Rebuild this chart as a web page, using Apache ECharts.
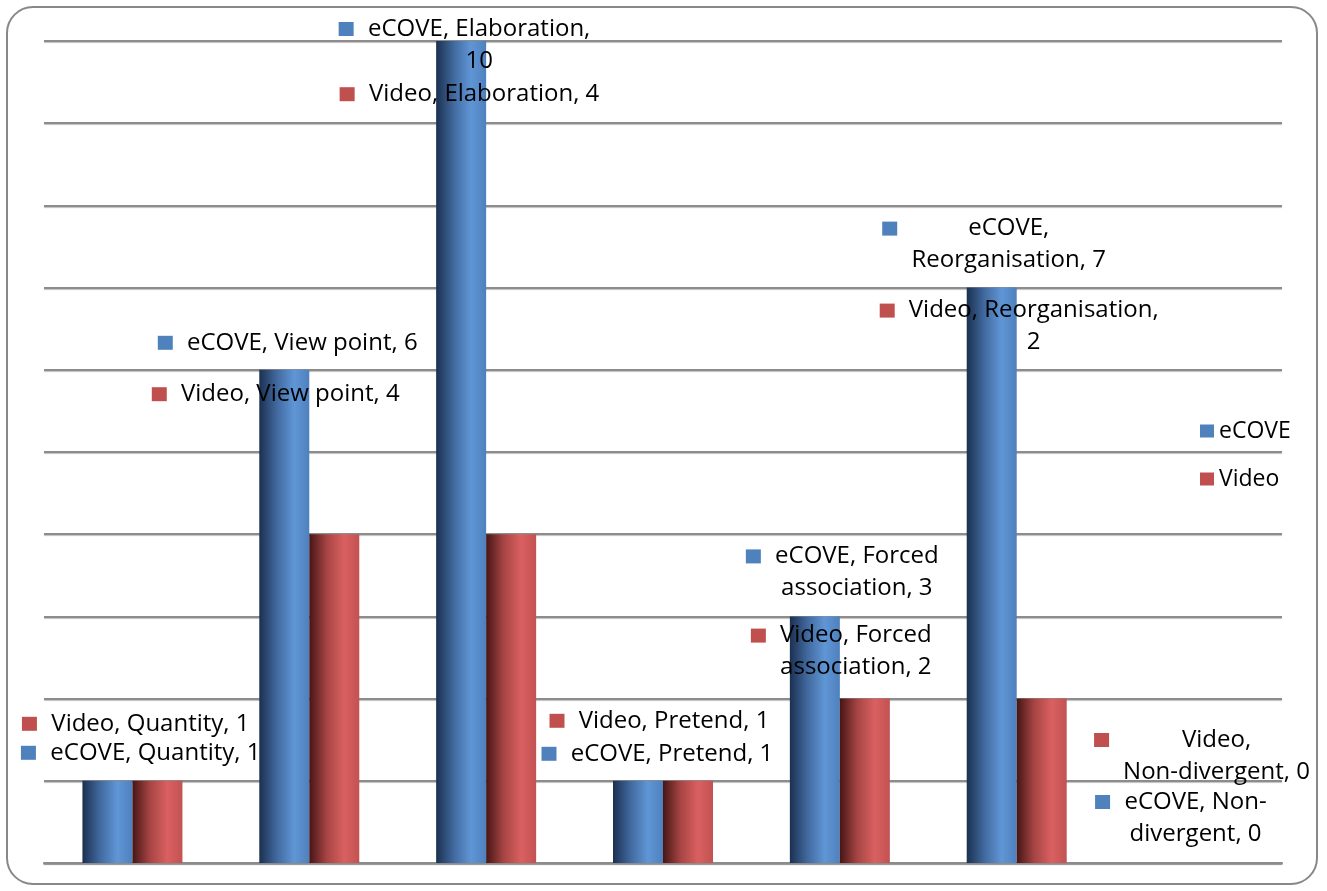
<!DOCTYPE html>
<html>
<head>
<meta charset="utf-8">
<script src="https://cdn.jsdelivr.net/npm/echarts@6/dist/echarts.min.js"></script>
<style>
  html, body { margin: 0; padding: 0; background: #fff; }
  #chart { width: 1327px; height: 891px; }
</style>
</head>
<body>
<div id="chart"></div>
<script>
const categories = ['Quantity', 'View point', 'Elaboration', 'Pretend', 'Forced association', 'Reorganisation', 'Non-divergent'];
const seriesNames = ['eCOVE', 'Video'];
const ecoveValues = [1, 6, 10, 1, 3, 7, 0];
const videoValues = [1, 4, 4, 1, 2, 2, 0];
const yTicks = [0, 1, 2, 3, 4, 5, 6, 7, 8, 9, 10];

// callout placement (offset from bar top centre, chars on first line)
const ecoveLabelPos = [[34, -28, 0], [4, -27, 0], [4, 4, 19], [20, -27, 0], [28, -44, 13], [3, -43, 6], [13, -45, 11]];
const videoLabelPos = [[-21, -57, 0], [-58, -140, 0], [-41, -440, 0], [-28, -60, 0], [-23, -47, 13], [-22, -372, 22], [-16, -107, 6]];

const FONT = '"Open Sans", "Noto Sans", sans-serif';
const FS = 24;
const markColors = ['#4f81bd', '#c0504d'];

const ctx = document.createElement('canvas').getContext('2d');
ctx.font = FS + 'px "Open Sans"';

function calloutText(name, cat, v, br) {
  const s = name + ', ' + cat + ', ' + v;
  let lines = [s];
  if (br) lines = [s.slice(0, br).trim(), s.slice(br).trim()];
  const w = Math.ceil(Math.max(...lines.map(l => ctx.measureText(l).width))) + 2;
  let out = '{sq|}{g|}{t|' + lines[0] + '}';
  if (lines[1]) out += '\n{sp|}{t|' + lines[1] + '}';
  return { text: out, w: w };
}

function makeData(name, values, pos, color) {
  return values.map((v, i) => {
    const c = calloutText(name, categories[i], v, pos[i][2]);
    return {
      value: v,
      label: {
        show: true,
        position: 'top',
        distance: 0,
        align: 'center',
        verticalAlign: 'middle',
        offset: [pos[i][0], pos[i][1]],
        formatter: c.text,
        rich: {
          sq: { width: 15, height: 14, backgroundColor: color },
          g: { width: 13 },
          sp: { width: 28 },
          t: { width: c.w, align: 'center', fontSize: FS, fontFamily: FONT, color: '#000', lineHeight: 32 }
        }
      }
    };
  });
}

const blueGrad = new echarts.graphic.LinearGradient(0, 0, 1, 0, [
  { offset: 0, color: '#1b3050' },
  { offset: 0.35, color: '#41699e' },
  { offset: 0.7, color: '#6096d6' },
  { offset: 1, color: '#4e80bd' }
]);
const redGrad = new echarts.graphic.LinearGradient(0, 0, 1, 0, [
  { offset: 0, color: '#471515' },
  { offset: 0.35, color: '#a64544' },
  { offset: 0.7, color: '#da6060' },
  { offset: 1, color: '#c25252' }
]);

const gridLine = { color: '#8c8c8c', width: 2, shadowColor: 'rgba(0,0,0,0.25)', shadowBlur: 1, shadowOffsetY: 1 };

const myChart = echarts.init(document.getElementById('chart'));
myChart.setOption({
  animation: false,
  textStyle: { fontFamily: FONT },
  graphic: [{
    type: 'rect',
    shape: { x: 7, y: 7, width: 1310, height: 877, r: 26 },
    style: { fill: 'none', stroke: '#888', lineWidth: 2 },
    z: -10
  }],
  grid: { left: 44, right: 45, top: 41, bottom: 28 },
  legend: {
    orient: 'vertical',
    left: 1195,
    top: 413,
    itemWidth: 14,
    itemHeight: 13,
    itemGap: 22,
    icon: 'rect',
    textStyle: { fontSize: 23, fontFamily: FONT, color: '#000', lineHeight: 26 },
    data: [
      { name: seriesNames[0], itemStyle: { color: markColors[0] } },
      { name: seriesNames[1], itemStyle: { color: markColors[1] } }
    ]
  },
  xAxis: {
    type: 'category',
    data: categories,
    axisTick: { show: false },
    axisLabel: { show: false },
    axisLine: { lineStyle: gridLine }
  },
  yAxis: {
    type: 'value',
    min: yTicks[0],
    max: yTicks[yTicks.length - 1],
    interval: 1,
    axisLabel: { show: false },
    axisTick: { show: false },
    axisLine: { show: false },
    splitLine: { lineStyle: gridLine }
  },
  series: [{
    name: seriesNames[0],
    type: 'bar',
    barWidth: 50,
    barGap: '0%',
    itemStyle: { color: blueGrad },
    data: makeData(seriesNames[0], ecoveValues, ecoveLabelPos, markColors[0])
  }, {
    name: seriesNames[1],
    type: 'bar',
    barWidth: 50,
    barGap: '0%',
    itemStyle: { color: redGrad },
    data: makeData(seriesNames[1], videoValues, videoLabelPos, markColors[1])
  }]
});
</script>
</body>
</html>
